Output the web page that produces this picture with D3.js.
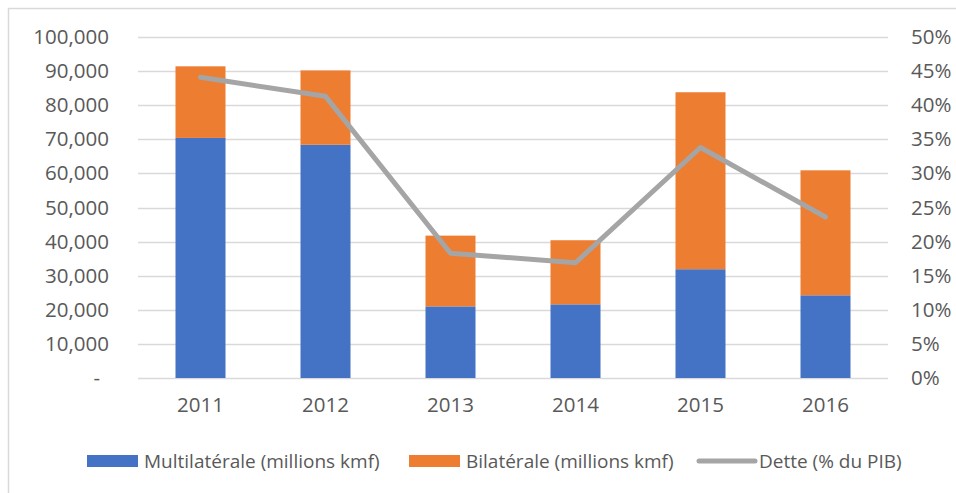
<!DOCTYPE html>
<html>
<head lang="fr">
    <meta charset="UTF-8">
    <title>Dette</title>
    <script src="https://cdn.jsdelivr.net/npm/d3@7"></script>
    <style>
        body { margin: 0; background: #fff; }
        text { font-family: "Open Sans", sans-serif; fill: #595959; }
    </style>
</head>
<body>
<svg id="chart"></svg>
<script>
    var years = ["2011", "2012", "2013", "2014", "2015", "2016"];
    var multilaterale = [70400, 68400, 21000, 21600, 31900, 24250];
    var bilaterale = [21000, 21800, 20750, 18800, 51900, 36650];
    var dette = [44.1, 41.3, 18.3, 16.9, 33.8, 23.6];
    var leftTicks = [0, 10000, 20000, 30000, 40000, 50000, 60000, 70000, 80000, 90000, 100000];
    var rightTicks = [0, 5, 10, 15, 20, 25, 30, 35, 40, 45, 50];
    var seriesNames = ["Multilatérale (millions kmf)", "Bilatérale (millions kmf)", "Dette (% du PIB)"];

    var w = 956, h = 493;
    var m = {left: 138, right: 888, top: 37, bottom: 378};

    var svg = d3.select("#chart").attr("width", w).attr("height", h);

    // cadre
    svg.append("rect")
            .attr("x", 8.5).attr("y", 8.5)
            .attr("width", w + 10).attr("height", h + 10)
            .attr("fill", "none").attr("stroke", "#d9d9d9").attr("stroke-width", 1.5);

    var x = d3.scaleBand().domain(years).range([m.left, m.right]).paddingInner(0.6).paddingOuter(0.3);
    var y = d3.scaleLinear().domain([0, 100000]).range([m.bottom, m.top]);
    var y2 = d3.scaleLinear().domain([0, 50]).range([m.bottom, m.top]);

    // grille
    svg.append("g").selectAll("line")
            .data(leftTicks)
            .enter().append("line")
            .attr("x1", m.left).attr("x2", m.right)
            .attr("y1", function (d) { return Math.round(y(d)) + 0.5; })
            .attr("y2", function (d) { return Math.round(y(d)) + 0.5; })
            .attr("stroke", "#d9d9d9").attr("stroke-width", 1.5);

    // axe gauche
    var fmt = d3.format(",");
    var leftAxis = d3.axisLeft(y).tickValues(leftTicks).tickSize(0).tickPadding(29)
            .tickFormat(function (d) { return d === 0 ? "-" : fmt(d); });
    var gl = svg.append("g").attr("transform", "translate(" + m.left + ",0)").call(leftAxis);
    gl.select(".domain").remove();
    gl.selectAll("text").style("font-size", "20.5px").attr("fill", "#595959");
    gl.selectAll(".tick").filter(function (d) { return d === 0; }).select("text").attr("dx", -9);

    // axe droit
    var rightAxis = d3.axisRight(y2).tickValues(rightTicks).tickSize(0).tickPadding(23)
            .tickFormat(function (d) { return d + "%"; });
    var gr = svg.append("g").attr("transform", "translate(" + m.right + ",0)").call(rightAxis);
    gr.select(".domain").remove();
    gr.selectAll("text").style("font-size", "20.5px").attr("fill", "#595959");

    // axe x
    var bottomAxis = d3.axisBottom(x).tickSize(0).tickPadding(19);
    var gb = svg.append("g").attr("transform", "translate(0," + m.bottom + ")").call(bottomAxis);
    gb.select(".domain").remove();
    gb.selectAll("text").style("font-size", "20.5px").attr("fill", "#595959");

    // barres
    var rows = years.map(function (yr, i) {
        return {year: yr, multi: multilaterale[i], bi: bilaterale[i]};
    });
    var stack = d3.stack().keys(["multi", "bi"])(rows);
    var colors = ["#4472C4", "#ED7D31"];
    svg.append("g").selectAll("g")
            .data(stack)
            .enter().append("g")
            .attr("fill", function (d, i) { return colors[i]; })
            .selectAll("rect")
            .data(function (d) { return d; })
            .enter().append("rect")
            .attr("x", function (d) { return x(d.data.year); })
            .attr("width", x.bandwidth())
            .attr("y", function (d) { return y(d[1]); })
            .attr("height", function (d) { return y(d[0]) - y(d[1]); });

    // ligne
    var line = d3.line()
            .x(function (d, i) { return x(years[i]) + x.bandwidth() / 2; })
            .y(function (d) { return y2(d); });
    svg.append("path")
            .datum(dette)
            .attr("d", line)
            .attr("fill", "none")
            .attr("stroke", "#A5A5A5")
            .attr("stroke-width", 5)
            .attr("stroke-linecap", "round")
            .attr("stroke-linejoin", "round");

    // légende
    var leg = svg.append("g");
    var legX = [87, 409, 699];
    leg.append("rect").attr("x", legX[0]).attr("y", 455).attr("width", 51).attr("height", 12).attr("fill", colors[0]);
    leg.append("rect").attr("x", legX[1]).attr("y", 455).attr("width", 51).attr("height", 12).attr("fill", colors[1]);
    leg.append("line").attr("x1", legX[2]).attr("x2", legX[2] + 56).attr("y1", 461).attr("y2", 461)
            .attr("stroke", "#A5A5A5").attr("stroke-width", 5).attr("stroke-linecap", "round");
    leg.selectAll("text")
            .data(seriesNames)
            .enter().append("text")
            .attr("x", function (d, i) { return i < 2 ? legX[i] + 57 : legX[i] + 60; })
            .attr("y", 461)
            .attr("dy", "0.35em")
            .style("font-size", "19px")
            .text(function (d) { return d; });
</script>
</body>
</html>
